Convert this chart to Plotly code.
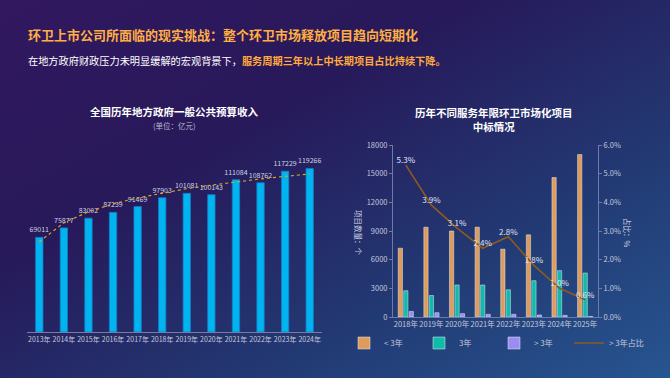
import base64
import plotly.graph_objects as go

# ---------------- data ----------------
years_left = ["2013年", "2014年", "2015年", "2016年", "2017年", "2018年",
              "2019年", "2020年", "2021年", "2022年", "2023年", "2024年"]
revenue = [69011, 75877, 83002, 87239, 91469, 97903, 101081, 100143,
           111084, 108762, 117229, 119266]
revenue_trend = [65800, 79600, 87700, 93400, 97800, 101400, 104500, 107100,
                 109500, 111600, 113500, 115200]

years_right = ["2018年", "2019年", "2020年", "2021年", "2022年", "2023年", "2024年", "2025年"]
lt3 = [7200, 9400, 9000, 9400, 7100, 8600, 14600, 17000]
eq3 = [2750, 2250, 3350, 3350, 2850, 3800, 4850, 4600]
gt3 = [580, 450, 350, 280, 280, 210, 170, 60]
gt3_share = [5.3, 3.9, 3.1, 2.4, 2.8, 1.8, 1.0, 0.6]

W, H = 670, 378
FONT = "Noto Sans CJK SC"

def px_x(p):
    return p / W

def px_y(p):
    return 1 - p / H

fig = go.Figure()

# ---------------- left chart ----------------
fig.add_trace(go.Bar(
    x=years_left, y=revenue, xaxis="x", yaxis="y", width=0.3,
    marker=dict(color="#00B4F0", line=dict(color="#1878C8", width=0.8)),
    text=[str(v) for v in revenue], textposition="outside",
    constraintext="none",
    textfont=dict(size=7, color="#D0D2E4", family=FONT),
    cliponaxis=False, showlegend=False,
))
fig.add_trace(go.Scatter(
    x=years_left, y=revenue_trend, xaxis="x", yaxis="y", mode="lines",
    line=dict(color="#D9A520", width=1.2, dash="dot"), showlegend=False,
))

# ---------------- right chart ----------------
fig.add_trace(go.Bar(
    x=years_right, y=lt3, name="< 3年", xaxis="x2", yaxis="y2",
    marker=dict(color="#DE9B5A"),
))
fig.add_trace(go.Bar(
    x=years_right, y=eq3, name="3年", xaxis="x2", yaxis="y2",
    marker=dict(color="#10BBA8"),
))
fig.add_trace(go.Bar(
    x=years_right, y=gt3, name="> 3年", xaxis="x2", yaxis="y2",
    marker=dict(color="#9B8CF2"),
))
fig.add_trace(go.Scatter(
    x=years_right, y=gt3_share, name="> 3年占比", xaxis="x2", yaxis="y3",
    mode="lines+text", line=dict(color="#8E5A1E", width=1.6),
    text=[f"{v:.1f}%" for v in gt3_share], textposition="top center",
    textfont=dict(size=8, color="#E2E4F0", family=FONT),
    cliponaxis=False,
))

# ---------------- background gradient ----------------
svg = f'''<svg xmlns="http://www.w3.org/2000/svg" width="{W}" height="{H}" viewBox="0 0 {W} {H}" preserveAspectRatio="none">
<defs><linearGradient id="g" x1="0" y1="0" x2="1" y2="1">
<stop offset="0" stop-color="#32185F"/>
<stop offset="0.35" stop-color="#27195A"/>
<stop offset="0.7" stop-color="#223A74"/>
<stop offset="1" stop-color="#275590"/>
</linearGradient></defs>
<rect width="{W}" height="{H}" fill="url(#g)"/></svg>'''
src = "data:image/svg+xml;base64," + base64.b64encode(svg.encode()).decode()

tick_col = "#C4C8DC"
axis_col = "#6C7BA8"

fig.update_layout(
    width=W, height=H,
    margin=dict(l=0, r=0, t=0, b=0, autoexpand=False),
    paper_bgcolor="#261A5C", plot_bgcolor="rgba(0,0,0,0)",
    font=dict(family=FONT, color="#FFFFFF"),
    images=[dict(source=src, xref="paper", yref="paper", x=0, y=1,
                 sizex=1, sizey=1, sizing="stretch", layer="below",
                 xanchor="left", yanchor="top")],
    barmode="group",
    bargap=0.36, bargroupgap=0.22,
    xaxis=dict(domain=[px_x(27), px_x(322)], showgrid=False, zeroline=False,
               showline=True, linecolor="#7A7C98", linewidth=1.2,
               tickangle=0, tickfont=dict(size=7, color=tick_col), ticks="",
               automargin=False, anchor="y"),
    yaxis=dict(domain=[px_y(332), px_y(140)], range=[0, 140000], visible=False,
               automargin=False, anchor="x"),
    xaxis2=dict(domain=[px_x(393), px_x(598)], showgrid=False, zeroline=False,
                showline=True, linecolor=axis_col, linewidth=1,
                tickangle=0, tickfont=dict(size=7.5, color=tick_col), ticks="",
                automargin=False, anchor="y2"),
    yaxis2=dict(domain=[px_y(317), px_y(145)], range=[0, 18000], dtick=3000,
                tickformat="d",
                showgrid=False, zeroline=False, showline=True, linecolor=axis_col,
                ticks="outside", ticklen=3, tickcolor=axis_col,
                tickfont=dict(size=7.5, color=tick_col), automargin=False,
                anchor="x2"),
    yaxis3=dict(range=[0, 6], dtick=1, overlaying="y2", side="right",
                showgrid=False, zeroline=False, showline=True, linecolor=axis_col,
                ticks="outside", ticklen=3, tickcolor=axis_col,
                ticksuffix="%", tickformat=".1f",
                tickfont=dict(size=7.5, color=tick_col), automargin=False,
                anchor="x2"),
    legend=dict(orientation="h", x=px_x(494), xanchor="center",
                y=px_y(343), yanchor="middle", bgcolor="rgba(0,0,0,0)",
                font=dict(size=8, color=tick_col), itemwidth=30,
                entrywidth=30, entrywidthmode="pixels",
                tracegroupgap=0, traceorder="normal"),
    showlegend=True,
)

ann = [
    dict(text="<b>环卫上市公司所面临的现实挑战：整个环卫市场释放项目趋向短期化</b>",
         x=px_x(26), y=px_y(34), font=dict(size=13, color="#FFAE42"),
         xanchor="left", yanchor="middle"),
    dict(text="在地方政府财政压力未明显缓解的宏观背景下，"
              "<span style='color:#FFAA3A'><b>服务周期三年以上中长期项目占比持续下降。</b></span>",
         x=px_x(26), y=px_y(60), font=dict(size=10.2, color="#FFFFFF"),
         xanchor="left", yanchor="middle"),
    dict(text="<b>全国历年地方政府一般公共预算收入</b>",
         x=px_x(174), y=px_y(111), font=dict(size=10.5, color="#FFFFFF"),
         xanchor="center", yanchor="middle"),
    dict(text="(单位：亿元)",
         x=px_x(174), y=px_y(125), font=dict(size=7.5, color="#B8BCD0"),
         xanchor="center", yanchor="middle"),
    dict(text="<b>历年不同服务年限环卫市场化项目<br>中标情况</b>",
         x=px_x(494), y=px_y(119), font=dict(size=10.5, color="#FFFFFF"),
         xanchor="center", yanchor="middle"),
    dict(text="项目数量：个", x=px_x(359), y=px_y(233), textangle=90,
         font=dict(size=7.5, color="#D0D4E4"), xanchor="center", yanchor="middle"),
    dict(text="占比：%", x=px_x(628), y=px_y(233), textangle=90,
         font=dict(size=7.5, color="#D0D4E4"), xanchor="center", yanchor="middle"),
]
for a in ann:
    a.update(xref="paper", yref="paper", showarrow=False)
fig.update_layout(annotations=ann)

fig.write_html(
    "out.html",
    config={"displayModeBar": False},
    post_script="document.body.style.margin='0';document.body.style.background='#261A5C';",
)
